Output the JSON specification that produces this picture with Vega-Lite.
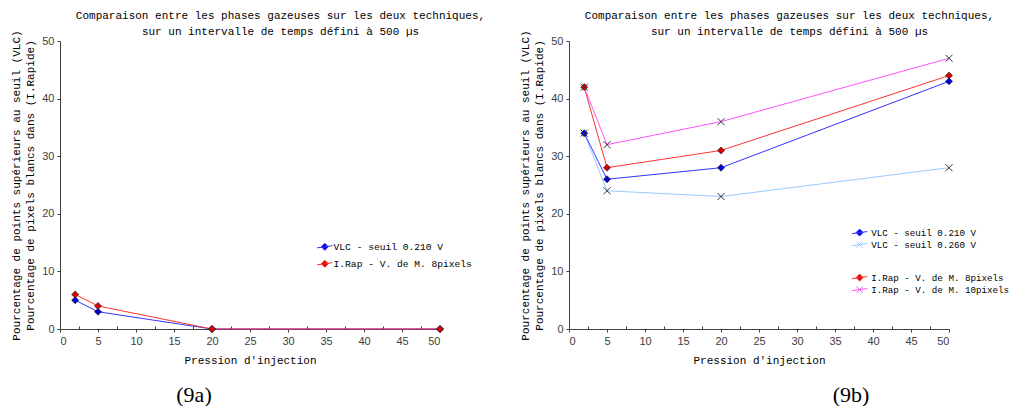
{
  "$schema": "https://vega.github.io/schema/vega-lite/v6.json",
  "background": "white",
  "padding": {"left": 10, "top": 9, "right": 0, "bottom": 0},
  "spacing": 34,
  "resolve": {"scale": {"color": "independent", "fill": "independent"}, "legend": {"color": "independent"}},
  "config": {
    "view": {"stroke": null},
    "axis": {
      "grid": false,
      "domainColor": "#404040",
      "tickColor": "#404040",
      "tickSize": 3,
      "labelFont": "Liberation Sans",
      "labelFontSize": 11,
      "labelColor": "#404040",
      "labelPadding": 3,
      "titleFont": "Liberation Mono",
      "titleFontSize": 11,
      "titleFontWeight": "normal",
      "titleColor": "#000000"
    },
    "title": {"font": "Liberation Serif", "fontSize": 22, "fontWeight": "normal", "color": "#000000"}
  },
  "datasets": {
    "a": [
      {"series": "VLC - seuil 0.210 V", "x": 2, "y": 5},
      {"series": "VLC - seuil 0.210 V", "x": 5, "y": 3},
      {"series": "VLC - seuil 0.210 V", "x": 20, "y": 0},
      {"series": "VLC - seuil 0.210 V", "x": 50, "y": 0},
      {"series": "I.Rap - V. de M. 8pixels", "x": 2, "y": 6},
      {"series": "I.Rap - V. de M. 8pixels", "x": 5, "y": 4},
      {"series": "I.Rap - V. de M. 8pixels", "x": 20, "y": 0},
      {"series": "I.Rap - V. de M. 8pixels", "x": 50, "y": 0}
    ],
    "b": [
      {"series": "VLC - seuil 0.260 V", "x": 2, "y": 34},
      {"series": "VLC - seuil 0.260 V", "x": 5, "y": 24},
      {"series": "VLC - seuil 0.260 V", "x": 20, "y": 23},
      {"series": "VLC - seuil 0.260 V", "x": 50, "y": 28},
      {"series": "VLC - seuil 0.210 V", "x": 2, "y": 34},
      {"series": "VLC - seuil 0.210 V", "x": 5, "y": 26},
      {"series": "VLC - seuil 0.210 V", "x": 20, "y": 28},
      {"series": "VLC - seuil 0.210 V", "x": 50, "y": 43},
      {"series": "I.Rap - V. de M. 8pixels", "x": 2, "y": 42},
      {"series": "I.Rap - V. de M. 8pixels", "x": 5, "y": 28},
      {"series": "I.Rap - V. de M. 8pixels", "x": 20, "y": 31},
      {"series": "I.Rap - V. de M. 8pixels", "x": 50, "y": 44},
      {"series": "I.Rap - V. de M. 10pixels", "x": 2, "y": 42},
      {"series": "I.Rap - V. de M. 10pixels", "x": 5, "y": 32},
      {"series": "I.Rap - V. de M. 10pixels", "x": 20, "y": 36},
      {"series": "I.Rap - V. de M. 10pixels", "x": 50, "y": 47}
    ]
  },
  "hconcat": [
    {
      "width": 380,
      "height": 288,
      "data": {"name": "a"},
      "title": {"text": "(9a)", "orient": "bottom", "anchor": "middle", "frame": "group", "dx": -56, "offset": 20},
      "resolve": {"axis": {"x": "independent"}},
      "layer": [
        {
          "mark": {"type": "line", "strokeWidth": 1},
          "encoding": {
            "x": {"field": "x", "type": "quantitative", "scale": {"domain": [0, 50], "nice": false},
              "axis": {"orient": "bottom", "values": [0,2.5,5,7.5,10,12.5,15,17.5,20,22.5,25,27.5,30,32.5,35,37.5,40,42.5,45,47.5,50],
                "tickSize": {"condition": {"test": "datum.value % 5 !== 0", "value": -3}, "value": 3},
                "labelExpr": "datum.value % 5 === 0 ? datum.label : ''", "title": "Pression d'injection", "titlePadding": 8}},
            "y": {"field": "y", "type": "quantitative", "scale": {"domain": [0, 50], "nice": false},
              "axis": {"values": [0,2.5,5,7.5,10,12.5,15,17.5,20,22.5,25,27.5,30,32.5,35,37.5,40,42.5,45,47.5,50],
                "labelExpr": "datum.value % 5 === 0 ? datum.label : ''",
                "title": ["Pourcentage de points supérieurs au seuil (VLC)", "Pourcentage de pixels blancs dans (I.Rapide)"],
                "titleLineHeight": 14, "titlePadding": 6}},
            "color": {"field": "series", "type": "nominal",
              "scale": {"domain": ["VLC - seuil 0.210 V", "I.Rap - V. de M. 8pixels"], "range": ["#3333ff", "#ff3333"]},
              "legend": {
                "orient": "none", "legendX": 260, "legendY": 201, "title": null, "direction": "vertical",
                "labelFont": "Liberation Mono", "labelFontSize": 9.6, "labelColor": "#000000",
                "symbolSize": 49, "symbolStrokeWidth": 1, "labelOffset": 4, "rowPadding": 5,
                "encode": {"symbols": {"update": {
                  "shape": {"signal": "'M-2.2,0.3L2.2,-0.3M0,-1L1,0L0,1L-1,0Z'"},
                  "fill": {"signal": "datum.value === 'VLC - seuil 0.210 V' ? '#0000dd' : '#dd0000'"}
                }}}
              }}
          }
        },
        {
          "mark": {"type": "point", "shape": "diamond", "filled": true, "size": 49, "stroke": "#202020", "strokeWidth": 0.7, "opacity": 1},
          "encoding": {
            "x": {"field": "x", "type": "quantitative", "axis": null},
            "y": {"field": "y", "type": "quantitative"},
            "fill": {"field": "series", "type": "nominal",
              "scale": {"domain": ["VLC - seuil 0.210 V", "I.Rap - V. de M. 8pixels"], "range": ["#0000dd", "#dd0000"]},
              "legend": null}
          }
        },
        {
          "mark": {"type": "rule", "opacity": 0},
          "encoding": {
            "x": {"field": "x", "type": "quantitative",
              "axis": {"orient": "top", "domain": false, "ticks": false, "labels": false,
                "title": ["Comparaison entre les phases gazeuses sur les deux techniques,", "sur un intervalle de temps défini à 500 µs"],
                "titleX": 220, "titleLineHeight": 16, "titlePadding": 5}}
          }
        }
      ]
    },
    {
      "width": 380,
      "height": 288,
      "data": {"name": "b"},
      "title": {"text": "(9b)", "orient": "bottom", "anchor": "middle", "frame": "group", "dx": 92, "offset": 20},
      "resolve": {"axis": {"x": "independent"}},
      "layer": [
        {
          "mark": {"type": "line", "strokeWidth": 1},
          "encoding": {
            "x": {"field": "x", "type": "quantitative", "scale": {"domain": [0, 50], "nice": false},
              "axis": {"orient": "bottom", "values": [0,2.5,5,7.5,10,12.5,15,17.5,20,22.5,25,27.5,30,32.5,35,37.5,40,42.5,45,47.5,50],
                "tickSize": {"condition": {"test": "datum.value % 5 !== 0", "value": -3}, "value": 3},
                "labelExpr": "datum.value % 5 === 0 ? datum.label : ''", "title": "Pression d'injection", "titlePadding": 8}},
            "y": {"field": "y", "type": "quantitative", "scale": {"domain": [0, 50], "nice": false},
              "axis": {"values": [0,2.5,5,7.5,10,12.5,15,17.5,20,22.5,25,27.5,30,32.5,35,37.5,40,42.5,45,47.5,50],
                "labelExpr": "datum.value % 5 === 0 ? datum.label : ''",
                "title": ["Pourcentage de points supérieurs au seuil (VLC)", "Pourcentage de pixels blancs dans (I.Rapide)"],
                "titleLineHeight": 14, "titlePadding": 6}},
            "color": {"field": "series", "type": "nominal",
              "scale": {"domain": ["VLC - seuil 0.210 V", "VLC - seuil 0.260 V", " ", "  ", "I.Rap - V. de M. 8pixels", "I.Rap - V. de M. 10pixels"],
                "range": ["#3333ff", "#99ccff", "transparent", "transparent", "#ff3333", "#ff55ff"]},
              "legend": {
                "orient": "none", "legendX": 286, "legendY": 187, "title": null, "direction": "vertical",
                "labelFont": "Liberation Mono", "labelFontSize": 9.2, "labelColor": "#000000",
                "symbolSize": 49, "symbolStrokeWidth": 1, "labelOffset": 7, "rowPadding": 0,
                "encode": {"symbols": {"update": {
                  "shape": {"signal": "(datum.value === 'VLC - seuil 0.210 V' || datum.value === 'I.Rap - V. de M. 8pixels') ? 'M-2.2,0.3L2.2,-0.3M0,-1L1,0L0,1L-1,0Z' : 'M-2.2,0.3L2.2,-0.3M-0.9,-0.9L0.9,0.9M-0.9,0.9L0.9,-0.9'"},
                  "fill": {"signal": "datum.value === 'VLC - seuil 0.210 V' ? '#0000dd' : datum.value === 'I.Rap - V. de M. 8pixels' ? '#dd0000' : 'transparent'"}
                }}}
              }}
          }
        },
        {
          "transform": [{"filter": "datum.series === 'VLC - seuil 0.210 V' || datum.series === 'I.Rap - V. de M. 8pixels'"}],
          "mark": {"type": "point", "shape": "diamond", "filled": true, "size": 49, "stroke": "#202020", "strokeWidth": 0.7, "opacity": 1},
          "encoding": {
            "x": {"field": "x", "type": "quantitative", "axis": null},
            "y": {"field": "y", "type": "quantitative"},
            "fill": {"field": "series", "type": "nominal",
              "scale": {"domain": ["VLC - seuil 0.210 V", "I.Rap - V. de M. 8pixels"], "range": ["#0000dd", "#dd0000"]},
              "legend": null}
          }
        },
        {
          "transform": [{"filter": "datum.series === 'VLC - seuil 0.260 V' || datum.series === 'I.Rap - V. de M. 10pixels'"}],
          "mark": {"type": "point", "shape": "M-1,-1L1,1M-1,1L1,-1", "filled": false, "size": 49, "stroke": "#303030", "strokeWidth": 1, "opacity": 1},
          "encoding": {
            "x": {"field": "x", "type": "quantitative", "axis": null},
            "y": {"field": "y", "type": "quantitative"}
          }
        },
        {
          "mark": {"type": "rule", "opacity": 0},
          "encoding": {
            "x": {"field": "x", "type": "quantitative",
              "axis": {"orient": "top", "domain": false, "ticks": false, "labels": false,
                "title": ["Comparaison entre les phases gazeuses sur les deux techniques,", "sur un intervalle de temps défini à 500 µs"],
                "titleX": 220, "titleLineHeight": 16, "titlePadding": 5}}
          }
        }
      ]
    }
  ]
}
